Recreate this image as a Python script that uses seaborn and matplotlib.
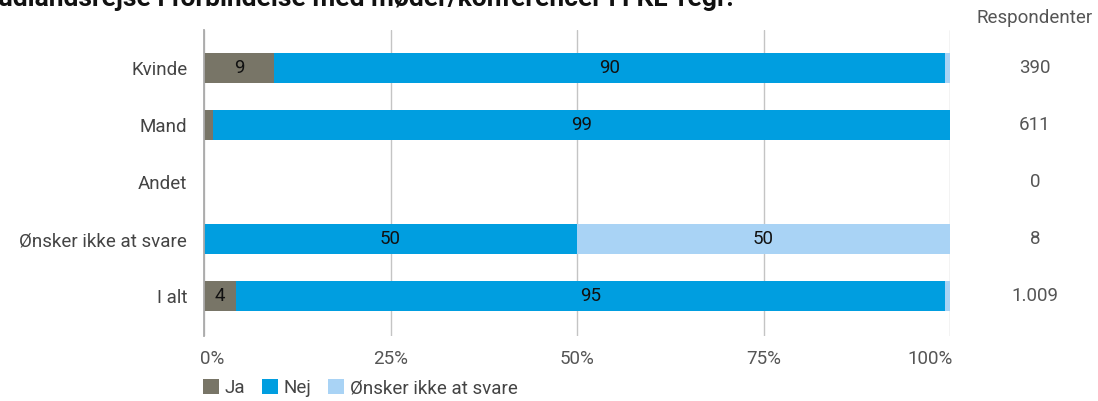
import numpy as np
import pandas as pd
import seaborn as sns
import matplotlib.pyplot as plt
import matplotlib.transforms as mtransforms
from matplotlib.patches import Patch

# Data (percent of respondents)
categories = ["Kvinde", "Mand", "Andet", "Ønsker ikke at svare", "I alt"]
ja = [9.4, 1.2, 0.0, 0.0, 4.3]
nej = [89.9, 98.8, 0.0, 50.0, 95.0]
onsker = [0.7, 0.0, 0.0, 50.0, 0.7]
respondenter = ["390", "611", "0", "8", "1.009"]
series_names = ["Ja", "Nej", "Ønsker ikke at svare"]
colors = ["#787567", "#009ee0", "#a9d3f5"]

df = pd.DataFrame({"kategori": categories, "Ja": ja, "Nej": nej, "Ønsker": onsker})
df["c1"] = df["Ja"]
df["c2"] = df["Ja"] + df["Nej"]
df["c3"] = df["c2"] + df["Ønsker"]

sns.set_theme(style="white")
plt.rcParams["font.family"] = ["Roboto", "DejaVu Sans"]

fig = plt.figure(figsize=(10.98, 4.01), dpi=100)
ax = fig.add_axes([204 / 1098, 65 / 401, 746 / 1098, 306 / 401])

# stacked bars: draw cumulative totals from the outside in
for col, color in zip(["c3", "c2", "c1"], colors[::-1]):
    sns.barplot(data=df, x=col, y="kategori", color=color, width=0.53,
                saturation=1, linewidth=0, ax=ax)

# segment labels
for i, row in df.iterrows():
    starts = [0, row["c1"], row["c2"]]
    for start, val in zip(starts, [row["Ja"], row["Nej"], row["Ønsker"]]):
        if val >= 3:
            ax.text(start + val / 2, i, f"{val:.0f}", ha="center", va="center",
                    fontsize=13.5, color="#111111")

ax.set_xlim(0, 100)
ax.set_ylim(4.7, -0.667)
ax.set_xticks([0, 25, 50, 75, 100])
ax.set_xticklabels(["0%", "25%", "50%", "75%", "100%"])
ax.xaxis.grid(True, color="#c4c4c4", linewidth=1)
ax.set_axisbelow(True)
ax.set_xlabel("")
ax.set_ylabel("")
for s in ["top", "right", "bottom"]:
    ax.spines[s].set_visible(False)
ax.spines["left"].set_color("#aaaaaa")
ax.spines["left"].set_linewidth(1.3)
ax.tick_params(axis="y", length=0, pad=12, labelsize=13.5, labelcolor="#444444")
ax.tick_params(axis="x", length=0, pad=10, labelsize=13.5, labelcolor="#555555")

# first and last x labels are kept inside the plot width
ticks = ax.xaxis.get_major_ticks()
ticks[0].label1.set_horizontalalignment("left")
ticks[-1].label1.set_horizontalalignment("right")
ticks[0].label1.set_transform(ticks[0].label1.get_transform()
                              + mtransforms.ScaledTranslation(-4 / 100, 0, fig.dpi_scale_trans))
ticks[-1].label1.set_transform(ticks[-1].label1.get_transform()
                               + mtransforms.ScaledTranslation(3 / 100, 0, fig.dpi_scale_trans))

# respondent counts column
fig.text(1035 / 1098, 1 - 18 / 401, "Respondenter", ha="center", va="center",
         fontsize=13.5, color="#555555")
trans = mtransforms.blended_transform_factory(fig.transFigure, ax.transData)
for i, n in enumerate(respondenter):
    ax.text(1035 / 1098, i, n, transform=trans, ha="center",
            va="center", fontsize=13.5, color="#555555")

# title, cropped at top of image
fig.text(-2 / 1098, 1 - 6 / 401, "udlandsrejse i forbindelse med møder/konferencer i FKL-regi?",
         ha="left", va="baseline", fontsize=19, fontweight="bold", color="#111111")

handles = [Patch(facecolor=c, edgecolor="none", label=n) for c, n in zip(colors, series_names)]
fig.legend(handles=handles, loc="center left", bbox_to_anchor=(203 / 1098, 1 - 388 / 401),
           ncol=3, frameon=False, fontsize=13.5, handlelength=0.85, handleheight=0.85,
           handletextpad=0.3, columnspacing=0.9, borderpad=0, borderaxespad=0,
           labelcolor="#444444")

fig.savefig("out.png", dpi=100)
